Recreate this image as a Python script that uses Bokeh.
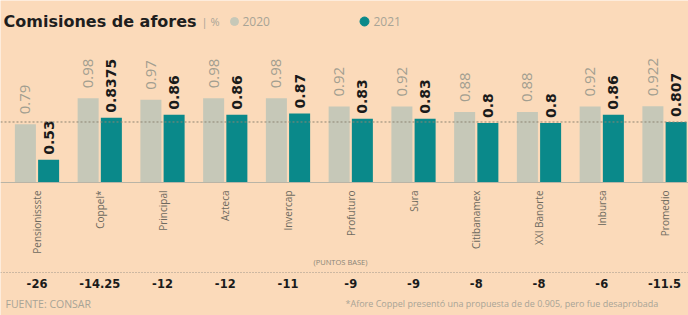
import math
from bokeh.plotting import figure
from bokeh.models import Range1d, Span, Label, ColumnDataSource
from bokeh.transform import dodge
from bokeh.core.properties import value
from bokeh.embed import file_html
from bokeh.resources import INLINE

# ---------------- data ----------------
categories = ["Pensionissste", "Coppel*", "Principal", "Azteca", "Invercap",
              "Profuturo", "Sura", "Citibanamex", "XXI Banorte", "Inbursa", "Promedio"]
comision_2020 = [0.79, 0.98, 0.97, 0.98, 0.98, 0.92, 0.92, 0.88, 0.88, 0.92, 0.922]
comision_2021 = [0.53, 0.8375, 0.86, 0.86, 0.87, 0.83, 0.83, 0.8, 0.8, 0.86, 0.807]
puntos_base = [-26, -14.25, -12, -12, -11, -9, -9, -8, -8, -6, -11.5]

# ---------------- layout ----------------
W, H = 688, 315
BG = "#FBDABA"
GRAY = "#C6C8B8"
TEAL = "#0A898A"
BASE_V = 0.364          # value at the baseline
BASE_PX = 182           # baseline, px from top
SCALE = 136.6           # px per unit
PITCH = 62.75
X0 = -36.5 / PITCH


def py(px_from_top):
    return BASE_V + (BASE_PX - px_from_top) / SCALE


p = figure(width=W, height=H, output_backend="svg", toolbar_location=None,
           x_range=Range1d(X0, X0 + W / PITCH),
           y_range=Range1d(BASE_V - (H - BASE_PX) / SCALE, BASE_V + BASE_PX / SCALE),
           min_border=0, background_fill_color=BG, border_fill_color=BG)
p.axis.visible = False
p.grid.visible = False
p.outline_line_color = None

idx = list(range(len(categories)))
src = ColumnDataSource(dict(
    x=idx,
    cat=categories,
    v20=comision_2020,
    v21=comision_2021,
    t20=[str(v) for v in comision_2020],
    t21=[str(v) for v in comision_2021],
    pb=[f"{v:g}" for v in puntos_base],
))

DX = 0.185
BW = 0.335
p.vbar(x=dodge("x", -DX), top="v20", bottom=BASE_V, width=BW, source=src,
       fill_color=GRAY, line_color=None)
p.vbar(x=dodge("x", DX), top="v21", bottom=BASE_V, width=BW, source=src,
       fill_color=TEAL, line_color=None)

# average line & baseline
p.add_layout(Span(location=comision_2021[-1], dimension="width",
                  line_color="#8C8474", line_width=1, line_dash="2 2"))
p.add_layout(Span(location=BASE_V, dimension="width", line_color="#B9B4A6", line_width=1))
p.add_layout(Span(location=py(272), dimension="width", line_color="#9E978A",
                  line_width=1, line_dash="1 2"))

# value labels
src.data["y20"] = [v + 10 / SCALE for v in comision_2020]
src.data["y21"] = [v + 5 / SCALE for v in comision_2021]
p.text(x=dodge("x", -DX), y="y20", text="t20", source=src, angle=math.pi / 2,
       text_align="left", text_baseline="middle", text_font=value("Open Sans"),
       text_font_size="15px", text_color="#A29E90")
p.text(x=dodge("x", DX), y="y21", text="t21", source=src, angle=math.pi / 2,
       text_align="left", text_baseline="middle", text_font=value("DejaVu Sans"),
       text_font_style="bold", text_font_size="14px", text_color="#1A1A1A")

# category labels
src.data["ycat"] = [py(190)] * len(categories)
p.text(x="x", y="ycat", text="cat", source=src, angle=math.pi / 2,
       text_align="right", text_baseline="middle", text_font=value("Open Sans"),
       text_font_size="10px", text_color="#6E6A60")

# puntos base row
src.data["ypb"] = [py(283)] * len(categories)
p.text(x="x", y="ypb", text="pb", source=src, text_align="center",
       text_baseline="middle", text_font=value("DejaVu Sans"), text_font_style="bold",
       text_font_size="11.5px", text_color="#1A1A1A")


def lab(txt, x, y, size, color, style="normal", font="Open Sans", align="left"):
    p.add_layout(Label(x=x, y=H - y, x_units="screen", y_units="screen", text=txt,
                       text_font=font, text_font_size=size, text_color=color,
                       text_font_style=style, text_baseline="middle", text_align=align))


lab("Comisiones de afores", 3, 21, "16px", "#1E1E1E", "bold", "DejaVu Sans")
lab("| %", 201, 21, "11px", "#A8A496")
p.scatter(x=[X0 + 234 / PITCH], y=[py(21)], size=8, color=GRAY)
lab("2020", 242, 21, "12px", "#A8A496")
p.scatter(x=[X0 + 364 / PITCH], y=[py(21)], size=9, color=TEAL)
lab("2021", 373, 21, "12px", "#A8A496")

lab("(PUNTOS BASE)", 340, 261, "7.5px", "#8A8578", align="center")
lab("FUENTE: CONSAR", 5, 303, "10.5px", "#A8A496")
lab("*Afore Coppel presentó una propuesta de de 0.905, pero fue desaprobada",
    345, 303, "9px", "#A8A496")

open("out.html", "w").write(file_html(p, INLINE))
